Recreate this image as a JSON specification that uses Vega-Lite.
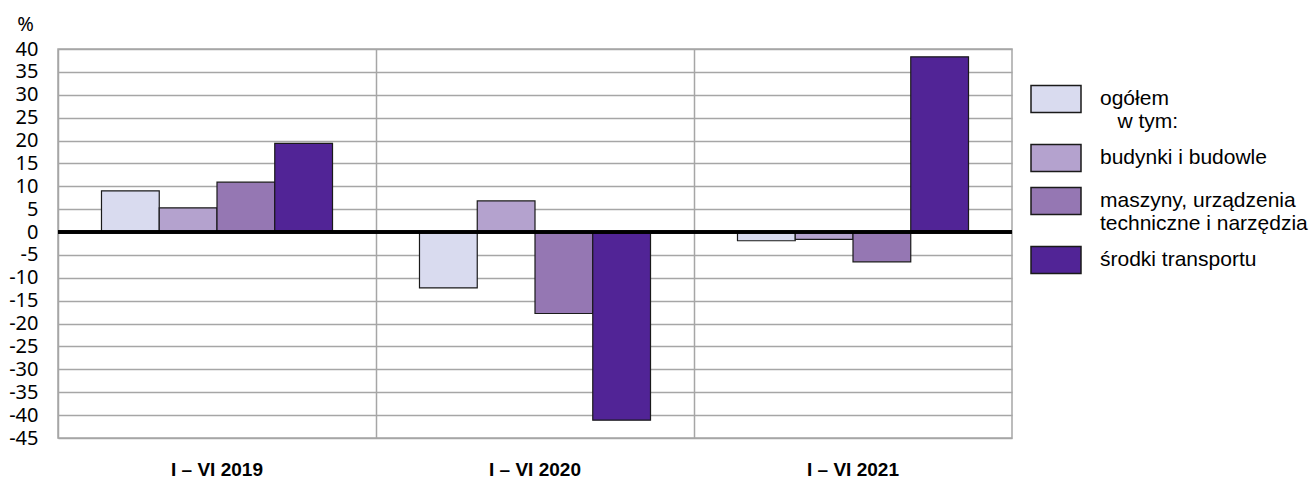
{
  "$schema": "https://vega.github.io/schema/vega-lite/v6.json",
  "width": 954,
  "height": 389,
  "autosize": {"type": "none"},
  "padding": {"left": 58, "top": 49, "right": 297, "bottom": 41},
  "background": "white",
  "config": {
    "view": {"stroke": "#a6a6a6", "strokeWidth": 1.5},
    "font": "Liberation Sans",
    "locale": {"number": {"decimal": ".", "thousands": "", "grouping": [3], "currency": ["", ""], "minus": "-"}},
    "axisY": {
      "labelOverlap": false, "labelBound": false, "labelSeparation": 0,
      "ticks": false, "domain": false, "labelPadding": 20,
      "labelFont": "Noto Sans", "labelFontSize": 20, "labelColor": "#000",
      "grid": true, "gridColor": "#a6a6a6", "gridWidth": 1.5,
      "titleFont": "Noto Sans", "titleFontSize": 20, "titleFontWeight": "normal", "titleColor": "#000"
    },
    "axisX": {
      "ticks": false, "domain": false, "labelAngle": 0, "labelPadding": 22,
      "labelFont": "Liberation Sans", "labelFontWeight": "bold", "labelFontSize": 19, "labelColor": "#000",
      "grid": true, "gridColor": "#a6a6a6", "gridWidth": 1.5
    }
  },
  "data": {
    "values": [
      {"okres": "I – VI 2019", "seria": "ogółem", "v": 9.0},
      {"okres": "I – VI 2019", "seria": "budynki i budowle", "v": 5.3},
      {"okres": "I – VI 2019", "seria": "maszyny, urządzenia techniczne i narzędzia", "v": 10.9},
      {"okres": "I – VI 2019", "seria": "środki transportu", "v": 19.4},
      {"okres": "I – VI 2020", "seria": "ogółem", "v": -12.2},
      {"okres": "I – VI 2020", "seria": "budynki i budowle", "v": 6.8},
      {"okres": "I – VI 2020", "seria": "maszyny, urządzenia techniczne i narzędzia", "v": -17.8},
      {"okres": "I – VI 2020", "seria": "środki transportu", "v": -41.1},
      {"okres": "I – VI 2021", "seria": "ogółem", "v": -1.9},
      {"okres": "I – VI 2021", "seria": "budynki i budowle", "v": -1.6},
      {"okres": "I – VI 2021", "seria": "maszyny, urządzenia techniczne i narzędzia", "v": -6.5},
      {"okres": "I – VI 2021", "seria": "środki transportu", "v": 38.3}
    ]
  },
  "layer": [
    {
      "mark": {"type": "bar", "stroke": "#1a1a1a", "strokeWidth": 1.2},
      "encoding": {
        "x": {
          "field": "okres", "type": "nominal", "sort": null,
          "scale": {"paddingInner": 0, "paddingOuter": 0},
          "axis": {"title": null, "bandPosition": 0}
        },
        "xOffset": {
          "field": "seria", "type": "nominal",
          "sort": ["ogółem", "budynki i budowle", "maszyny, urządzenia techniczne i narzędzia", "środki transportu"],
          "scale": {"paddingInner": 0, "paddingOuter": 0.753}
        },
        "y": {
          "field": "v", "type": "quantitative",
          "scale": {"domain": [-45, 40], "nice": false, "zero": false},
          "axis": {
            "title": "%", "titleAngle": 0, "titleX": -33, "titleY": -25, "titleAlign": "center", "titleBaseline": "middle",
            "values": [-45, -40, -35, -30, -25, -20, -15, -10, -5, 0, 5, 10, 15, 20, 25, 30, 35, 40],
            "tickCount": 30,
            "format": "d",
            "labelOverlap": false
          }
        },
        "color": {
          "field": "seria", "type": "nominal",
          "scale": {
            "domain": ["ogółem", "budynki i budowle", "maszyny, urządzenia techniczne i narzędzia", "środki transportu"],
            "range": ["#d9dbef", "#b4a2ce", "#9577b3", "#512496"]
          },
          "legend": {
            "title": null,
            "orient": "none", "legendX": 972, "legendY": 24,
            "padding": 0,
            "symbolType": "M-1,-0.54H1V0.54H-1Z",
            "symbolSize": 2500,
            "symbolStrokeColor": "#1a1a1a", "symbolStrokeWidth": 1.5, "symbolOpacity": 1,
            "labelFont": "Liberation Sans", "labelFontSize": 21, "labelColor": "#000",
            "labelOffset": 18, "labelLimit": 400, "labelBaseline": "middle",
            "rowPadding": 0,
            "labelExpr": "datum.label == 'ogółem' ? ['ogółem', '\\u200b\\u00a0\\u00a0\\u00a0w tym:'] : datum.label == 'maszyny, urządzenia techniczne i narzędzia' ? ['maszyny, urządzenia', 'techniczne i narzędzia'] : datum.label"
          }
        }
      }
    },
    {
      "mark": {"type": "rule", "color": "#000", "strokeWidth": 2.5},
      "encoding": {"y": {"datum": 0}}
    }
  ]
}
